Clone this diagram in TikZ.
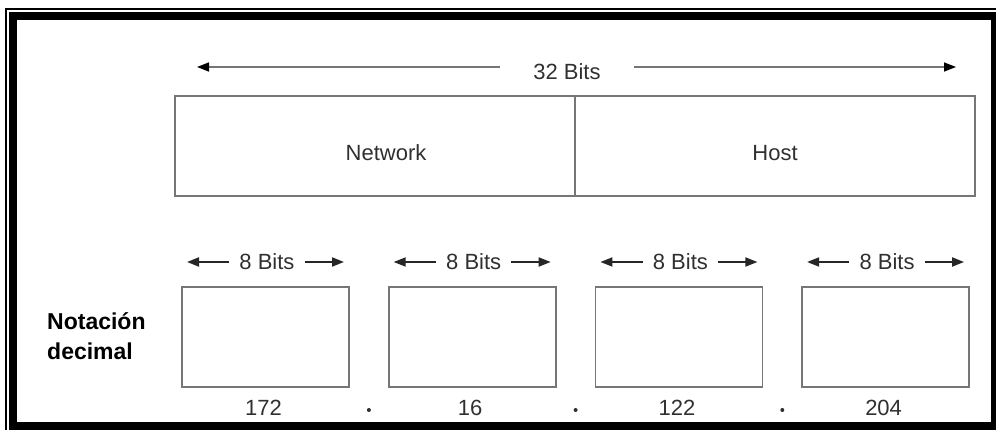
\documentclass[tikz,border=0pt]{standalone}
\usepackage{fontspec}
\setmainfont{Liberation Sans}
\usetikzlibrary{arrows.meta,positioning,calc}
\definecolor{ipLine}{RGB}{118,118,118}
\definecolor{ipText}{RGB}{48,48,48}

\begin{document}
\begin{tikzpicture}[x=1pt,y=-1pt,
  every node/.style={font=\fontsize{22}{26}\selectfont,text=ipText},
  >={Triangle[length=12pt,width=9pt]},
  field/.style={draw=ipLine,line width=1.6pt,minimum width=400pt,
                minimum height=100pt,inner sep=0pt},
  octet/.style={draw=ipLine,line width=1.6pt,minimum width=167pt,
                minimum height=100pt,inner sep=0pt},
  bitlbl/.style={inner xsep=10pt,inner ysep=0pt},
  wide/.style={->,line width=1.6pt,draw=ipLine,
               >={Triangle[length=12pt,width=9pt,color=black]}},
  narrow/.style={->,line width=1.8pt,draw=black!85},
  sep/.style={circle,fill=ipText,inner sep=0pt,minimum size=4pt},
  frame/.style={line width=8pt,draw=black}
]
\useasboundingbox (0,0) rectangle (996,430);
% outer frame
\draw[line width=1.5pt] (6,430) -- (6,9) -- (996,9);
\draw[frame] (13,16) rectangle (995,426);

% 32 bit address
\node (all) [inner xsep=33pt,inner ysep=0pt] at (567,72) {32 Bits};
\coordinate (allL) at (197,67);
\coordinate (allR) at (956,67);
\draw[wide] ([yshift=5pt]all.west) -- (allL);
\draw[wide] ([yshift=5pt]all.east) -- (allR);

\node[field] (net)  at (375,146) {};
\node[field] (host) at (775,146) {};
\node (netT)  at (386,153) {Network};
\node (hostT) at (775,153) {Host};

% four octets
\foreach \i/\v in {1/172,2/16,3/122,4/204} {
  \pgfmathsetmacro\cx{265.5+206.7*(\i-1)}
  \node[octet]  (o\i) at (\cx,337) {};
  \node[bitlbl] (b\i) at (\cx+1.5,262) {8 Bits};
  \coordinate (bL\i) at (\cx-78.5,262);
  \coordinate (bR\i) at (\cx+78.5,262);
  \draw[narrow] (b\i.west) -- (bL\i);
  \draw[narrow] (b\i.east) -- (bR\i);
  \node (n\i) at (\cx-2,408) {\v};
}
\foreach \j in {1,2,3}
  \node[sep] (d\j) at ({368.9+206.7*(\j-1)},410) {};

\node[font=\fontsize{23}{30}\selectfont\bfseries,text=black,align=left,
      anchor=west,inner sep=0pt] (dec) at (47,336) {Notación\\decimal};
\end{tikzpicture}
\end{document}
